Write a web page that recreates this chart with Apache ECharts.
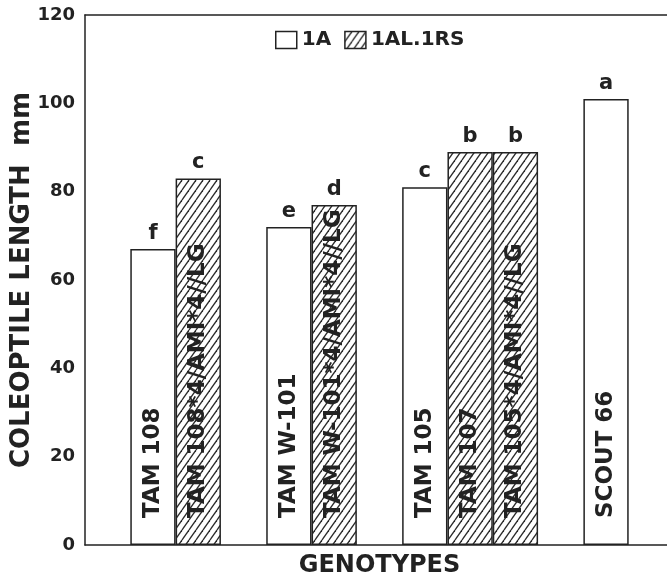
<!DOCTYPE html>
<html>
<head>
<meta charset="utf-8">
<script src="https://cdn.jsdelivr.net/npm/echarts@6/dist/echarts.min.js"></script>
<style>
html,body{margin:0;padding:0;background:#fff;overflow:hidden;}
#chart{width:674px;height:578px;}
</style>
</head>
<body>
<div id="chart"></div>
<script>
// Categories (empty strings are the gaps between genotype groups)
var categories = ['', 'TAM 108', 'TAM 108*4/AMI*4//LG', '', 'TAM W-101', 'TAM W-101*4/AMI*4//LG', '', 'TAM 105', 'TAM 107', 'TAM 105*4/AMI*4//LG', '', 'SCOUT 66', ''];
var values1A   = [null, 67, null, null, 72, null, null, 81, null, null, null, 101, null];
var values1ALRS = [null, null, 83, null, null, 77, null, null, 89, 89, null, null, null];
var letters    = ['', 'f', 'c', '', 'e', 'd', '', 'c', 'b', 'b', '', 'a', ''];
var yTicks = [0, 20, 40, 60, 80, 100, 120];

var FONT = 'DejaVu Sans';
var INK = '#222';

function hatch() {
  var w = 7, h = 10;
  var c = document.createElement('canvas');
  c.width = w; c.height = h;
  var g = c.getContext('2d');
  g.fillStyle = '#fff';
  g.fillRect(0, 0, w, h);
  g.strokeStyle = '#2a2a2a';
  g.lineWidth = 1.3;
  for (var k = -1; k <= 1; k++) {
    g.beginPath();
    g.moveTo(k * w, h);
    g.lineTo(k * w + w, 0);
    g.stroke();
  }
  return c;
}

var tops = categories.map(function (c, i) {
  var v = values1A[i] != null ? values1A[i] : values1ALRS[i];
  return v == null ? null : v;
});

var insideLabel = {
  show: true,
  position: 'insideBottom',
  rotate: 90,
  align: 'left',
  verticalAlign: 'middle',
  distance: 27,
  formatter: '{b}',
  fontFamily: FONT,
  fontWeight: 'bold',
  fontSize: 23,
  color: INK
};

var frameLine = {show: true, lineStyle: {color: INK, width: 1.5}};

var chart = echarts.init(document.getElementById('chart'), null, {renderer: 'canvas'});
chart.setOption({
  animation: false,
  backgroundColor: '#fff',
  legend: {
    data: ['1A', '1AL.1RS'],
    left: 275,
    top: 30,
    padding: 0,
    icon: 'rect',
    itemWidth: 21,
    itemHeight: 17,
    itemGap: 13,
    itemStyle: {borderColor: INK, borderWidth: 1.5},
    textStyle: {fontFamily: FONT, fontWeight: 'bold', fontSize: 20, color: INK}
  },
  grid: {
    left: 85, right: 0, top: 15, bottom: 33,
    containLabel: false,
    outerBoundsMode: 'none',
    show: false
  },
  xAxis: [{
    type: 'category',
    data: categories,
    boundaryGap: true,
    axisLine: frameLine,
    axisTick: {show: false},
    axisLabel: {show: false},
    name: 'GENOTYPES',
    nameLocation: 'middle',
    nameGap: 9,
    nameMoveOverlap: false,
    nameTextStyle: {fontFamily: FONT, fontWeight: 'bold', fontSize: 24, color: INK}
  }, {
    type: 'category',
    position: 'top',
    data: categories,
    boundaryGap: true,
    axisLine: frameLine,
    axisTick: {show: false},
    axisLabel: {show: false}
  }],
  yAxis: {
    type: 'value',
    min: yTicks[0],
    max: yTicks[yTicks.length - 1],
    interval: 20,
    axisLine: frameLine,
    axisTick: {show: false},
    splitLine: {show: false},
    axisLabel: {margin: 10, fontFamily: FONT, fontWeight: 'bold', fontSize: 18, color: INK},
    name: 'COLEOPTILE LENGTH  mm',
    nameLocation: 'middle',
    nameRotate: 90,
    nameGap: 50,
    nameMoveOverlap: false,
    nameTextStyle: {fontFamily: FONT, fontWeight: 'bold', fontSize: 26, color: INK}
  },
  series: [
    {
      name: '1A',
      type: 'bar',
      data: values1A,
      barWidth: '100%',
      barGap: '-100%',
      itemStyle: {color: '#fff', borderColor: INK, borderWidth: 1.5},
      label: insideLabel
    },
    {
      name: '1AL.1RS',
      type: 'bar',
      data: values1ALRS,
      barWidth: '100%',
      barGap: '-100%',
      itemStyle: {color: {image: hatch(), repeat: 'repeat'}, borderColor: INK, borderWidth: 1.5},
      label: insideLabel
    },
    {
      name: 'letters',
      type: 'bar',
      data: tops,
      barWidth: '100%',
      barGap: '-100%',
      silent: true,
      z: 5,
      itemStyle: {color: 'rgba(0,0,0,0)', borderWidth: 0},
      label: {
        show: true,
        position: 'top',
        distance: 5,
        formatter: function (p) { return letters[p.dataIndex]; },
        fontFamily: FONT,
        fontWeight: 'bold',
        fontSize: 21,
        color: INK
      }
    }
  ]
});
</script>
</body>
</html>
